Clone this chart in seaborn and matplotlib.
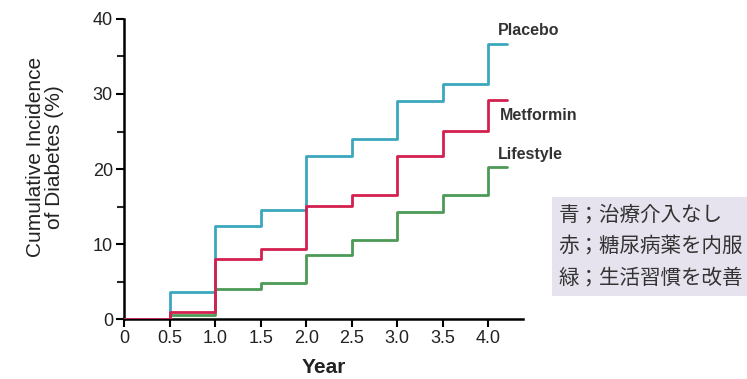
import numpy as np
import matplotlib
matplotlib.use("Agg")
import matplotlib.pyplot as plt
import seaborn as sns
import pandas as pd
from matplotlib.patches import Rectangle

# Follow-up time points (years); last point just extends the final step
years = [0, 0.5, 1.0, 1.5, 2.0, 2.5, 3.0, 3.5, 4.0, 4.2]

placebo = [0, 3.6, 12.4, 14.6, 21.7, 24.0, 29.0, 31.3, 36.7, 36.7]
metformin = [0, 1.0, 8.0, 9.3, 15.1, 16.6, 21.7, 25.1, 29.2, 29.2]
lifestyle = [0, 0.6, 4.0, 4.8, 8.5, 10.6, 14.3, 16.6, 20.3, 20.3]

groups = ["Placebo", "Metformin", "Lifestyle"]
colors = {"Placebo": "#3ba7bd", "Metformin": "#d3204f", "Lifestyle": "#4c9a55"}

x_ticks = [0, 0.5, 1.0, 1.5, 2.0, 2.5, 3.0, 3.5, 4.0]
x_tick_labels = ["0", "0.5", "1.0", "1.5", "2.0", "2.5", "3.0", "3.5", "4.0"]

note_lines = ["青；治療介入なし", "赤；糖尿病薬を内服", "緑；生活習慣を改善"]

df = pd.DataFrame({
    "Year": years * 3,
    "Incidence": placebo + metformin + lifestyle,
    "Group": [g for g in groups for _ in years],
})

sns.set_style("white")
plt.rcParams["font.family"] = ["Liberation Sans", "Noto Sans CJK JP", "DejaVu Sans"]

fig = plt.figure(figsize=(7.47, 3.79), dpi=100)
ax = fig.add_axes([0.166, 0.158, 0.534, 0.792])

sns.lineplot(data=df, x="Year", y="Incidence", hue="Group", hue_order=["Lifestyle", "Placebo", "Metformin"],
             palette=colors, drawstyle="steps-post", linewidth=2.0, legend=False, ax=ax, zorder=3)

ax.set_xlim(0, 4.38)
ax.set_ylim(0, 40)
ax.set_xticks(x_ticks)
ax.set_xticklabels(x_tick_labels)
ax.set_yticks([0, 10, 20, 30, 40])
ax.set_yticks([5, 15, 25, 35], minor=True)
ax.tick_params(axis="both", which="major", direction="out", length=6, width=1.5,
               labelsize=13, color="black", left=True, bottom=True, pad=2)
ax.tick_params(axis="y", which="minor", direction="out", length=5, width=1.5, left=True)
for lbl in ax.get_xticklabels() + ax.get_yticklabels():
    lbl.set_color("#222222")
for s in ["top", "right"]:
    ax.spines[s].set_visible(False)
for s in ["left", "bottom"]:
    ax.spines[s].set_color("black")
    ax.spines[s].set_linewidth(1.8)

ax.set_xlabel("Year", fontsize=15, fontweight="bold", labelpad=8, color="#222222")
ax.set_ylabel("Cumulative Incidence\nof Diabetes (%)", fontsize=15, linespacing=1.0,
              color="#222222")
ax.yaxis.set_label_coords(-0.15, 0.54)

# Curve labels at the right end of each step line
ax.text(4.11, 38.5, "Placebo", fontsize=11.5, fontweight="bold", color="#333333", va="center", clip_on=False)
ax.text(4.13, 27.1, "Metformin", fontsize=11.5, fontweight="bold", color="#333333", va="center", clip_on=False)
ax.text(4.11, 21.9, "Lifestyle", fontsize=11.5, fontweight="bold", color="#333333", va="center", clip_on=False)

# Japanese note box
fig.patches.append(Rectangle((0.739, 0.219), 0.261, 0.261, transform=fig.transFigure,
                             facecolor="#e6e3ee", edgecolor="none", zorder=0))
for i, line in enumerate(note_lines):
    fig.text(0.748, 0.433 - i * 0.082, line, fontsize=14.8, color="#333333", va="center",
             family=["Noto Sans CJK JP", "DejaVu Sans"])

fig.savefig("out.png", dpi=100)
